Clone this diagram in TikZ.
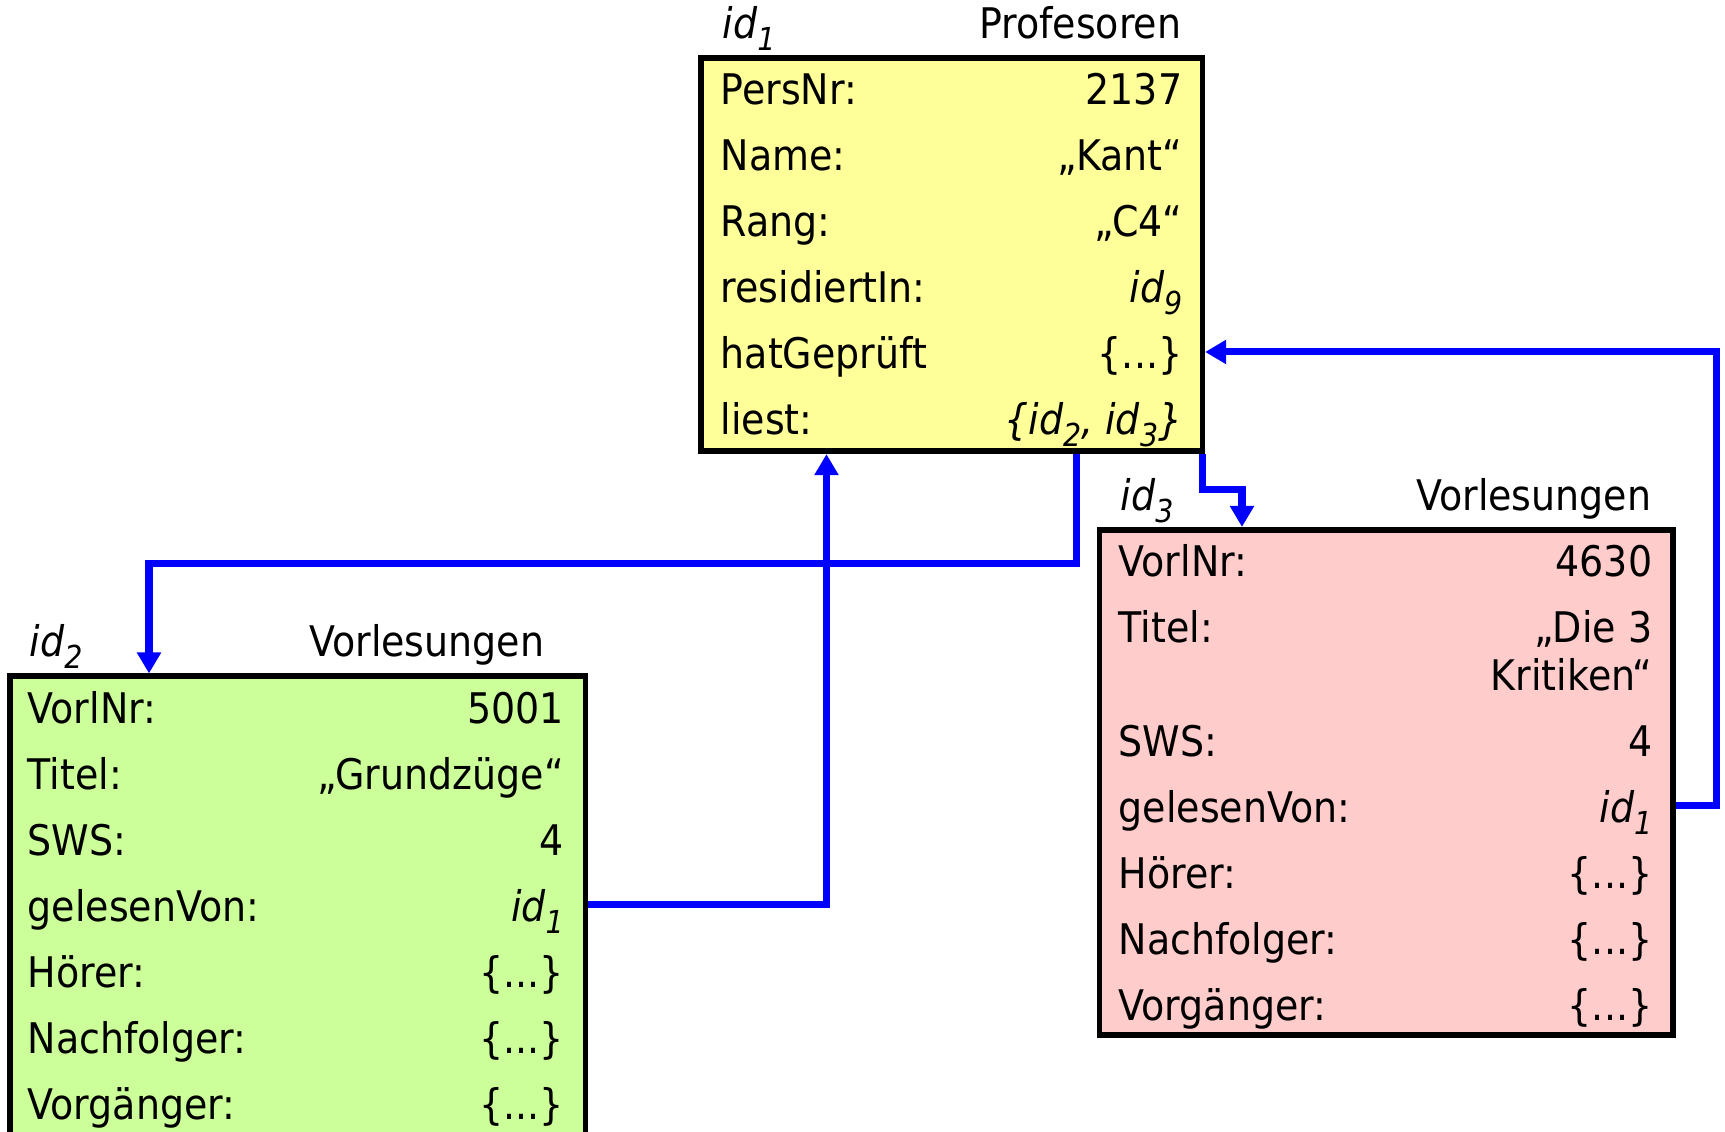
\documentclass[tikz,border=0pt]{standalone}
\usepackage{fontspec}
\setmainfont{DejaVu Sans}[FakeStretch=0.9]
\usepackage{tikz}
\usetikzlibrary{arrows.meta, positioning, calc}

\definecolor{profyellow}{HTML}{FFFF99}
\definecolor{vlgreen}{HTML}{CCFF99}
\definecolor{vlpink}{HTML}{FFCCCC}
\definecolor{linkblue}{HTML}{0000FF}

\newcommand{\objid}[1]{\textit{id\raisebox{-0.5ex}{\small #1}}}

\tikzset{
  objbox/.style={draw, line width=1.6pt, inner sep=0pt, anchor=north west},
  objlabel/.style={inner sep=0pt},
  attr/.style={anchor=west, inner sep=0pt, text height=3.4mm, text depth=0pt},
  attrval/.style={anchor=east, inner sep=0pt, text height=3.4mm, text depth=0pt},
  link/.style={draw=linkblue, line width=2pt, -{Triangle[length=2.1mm, width=2.3mm]}}
}

\begin{document}
\begin{tikzpicture}[font=\fontsize{12pt}{14pt}\selectfont]
    \useasboundingbox (0,0) rectangle (17.25,11.32);

    % Professor object id1
    \node[objbox, fill=profyellow, minimum width=5.015cm, minimum height=3.935cm] (prof) at (6.98,10.77) {};
    \node[objlabel, anchor=base west] (p-id) at (7.22,10.93) {\objid{1}};
    \node[objlabel, anchor=base east] (p-cls) at (11.82,10.93) {Profesoren};
    \node[attr] (p-persnr) at (7.20,10.44) {PersNr:};
    \node[attrval] (p-persnr-v) at (11.83,10.44) {2137};
    \node[attr] (p-name) at (7.20,9.78) {Name:};
    \node[attrval] (p-name-v) at (11.83,9.78) {„Kant“};
    \node[attr] (p-rang) at (7.20,9.12) {Rang:};
    \node[attrval] (p-rang-v) at (11.83,9.12) {„C4“};
    \node[attr] (p-res) at (7.20,8.46) {residiertIn:};
    \node[attrval] (p-res-v) at (11.83,8.46) {\objid{9}};
    \node[attr] (p-hat) at (7.20,7.80) {hatGeprüft};
    \node[attrval] (p-hat-v) at (11.83,7.80) {\{...\}};
    \node[attr] (p-liest) at (7.20,7.14) {liest:};
    \node[attrval] (p-liest-v) at (11.83,7.14) {\textit{\{}\objid{2}\textit{,} \objid{3}\textit{\}}};

    % Lecture object id2
    \node[objbox, fill=vlgreen, minimum width=5.75cm, minimum height=4.6cm] (vl2) at (0.075,4.585) {};
    \node[objlabel, anchor=base west] (a-id) at (0.29,4.75) {\objid{2}};
    \node[objlabel, anchor=base east] (a-cls) at (5.45,4.75) {Vorlesungen};
    \node[attr] (a-nr) at (0.27,4.25) {VorlNr:};
    \node[attrval] (a-nr-v) at (5.645,4.25) {5001};
    \node[attr] (a-titel) at (0.27,3.59) {Titel:};
    \node[attrval] (a-titel-v) at (5.645,3.59) {„Grundzüge“};
    \node[attr] (a-sws) at (0.27,2.93) {SWS:};
    \node[attrval] (a-sws-v) at (5.645,2.93) {4};
    \node[attr] (a-gel) at (0.27,2.27) {gelesenVon:};
    \node[attrval] (a-gel-v) at (5.645,2.27) {\objid{1}};
    \node[attr] (a-hoer) at (0.27,1.61) {Hörer:};
    \node[attrval] (a-hoer-v) at (5.645,1.61) {\{...\}};
    \node[attr] (a-nach) at (0.27,0.95) {Nachfolger:};
    \node[attrval] (a-nach-v) at (5.645,0.95) {\{...\}};
    \node[attr] (a-vorg) at (0.27,0.29) {Vorgänger:};
    \node[attrval] (a-vorg-v) at (5.645,0.29) {\{...\}};

    % Lecture object id3
    \node[objbox, fill=vlpink, minimum width=5.735cm, minimum height=5.05cm] (vl3) at (10.965,6.05) {};
    \node[objlabel, anchor=base west] (b-id) at (11.20,6.215) {\objid{3}};
    \node[objlabel, anchor=base east] (b-cls) at (16.52,6.215) {Vorlesungen};
    \node[attr] (b-nr) at (11.18,5.72) {VorlNr:};
    \node[attrval] (b-nr-v) at (16.53,5.72) {4630};
    \node[attr] (b-titel) at (11.18,5.06) {Titel:};
    \node[attrval] (b-titel-v) at (16.53,5.06) {„Die 3};
    \node[attrval] (b-titel-v2) at (16.53,4.58) {Kritiken“};
    \node[attr] (b-sws) at (11.18,3.92) {SWS:};
    \node[attrval] (b-sws-v) at (16.53,3.92) {4};
    \node[attr] (b-gel) at (11.18,3.26) {gelesenVon:};
    \node[attrval] (b-gel-v) at (16.53,3.26) {\objid{1}};
    \node[attr] (b-hoer) at (11.18,2.60) {Hörer:};
    \node[attrval] (b-hoer-v) at (16.53,2.60) {\{...\}};
    \node[attr] (b-nach) at (11.18,1.94) {Nachfolger:};
    \node[attrval] (b-nach-v) at (16.53,1.94) {\{...\}};
    \node[attr] (b-vorg) at (11.18,1.28) {Vorgänger:};
    \node[attrval] (b-vorg-v) at (16.53,1.28) {\{...\}};

    % Bends of the references
    \coordinate (railA) at (17.165,7.80);
    \coordinate (bendB) at (10.765,5.685);
    \coordinate (dropB) at (1.49,5.685);
    \coordinate (bendC) at (12.42,6.425);
    \coordinate (riseD) at (8.265,2.27);

    % References
    \draw[link] (vl3.east |- b-gel) -| (railA) -- (prof.east |- railA);
    \draw[link] (prof.south -| bendB) -- (bendB) -| (vl2.north -| dropB);
    \draw[link] ([xshift=-0.8pt]prof.south east) |- (bendC) -- (vl3.north -| bendC);
    \draw[link] (vl2.east |- a-gel) -| (prof.south -| riseD);

\end{tikzpicture}
\end{document}
